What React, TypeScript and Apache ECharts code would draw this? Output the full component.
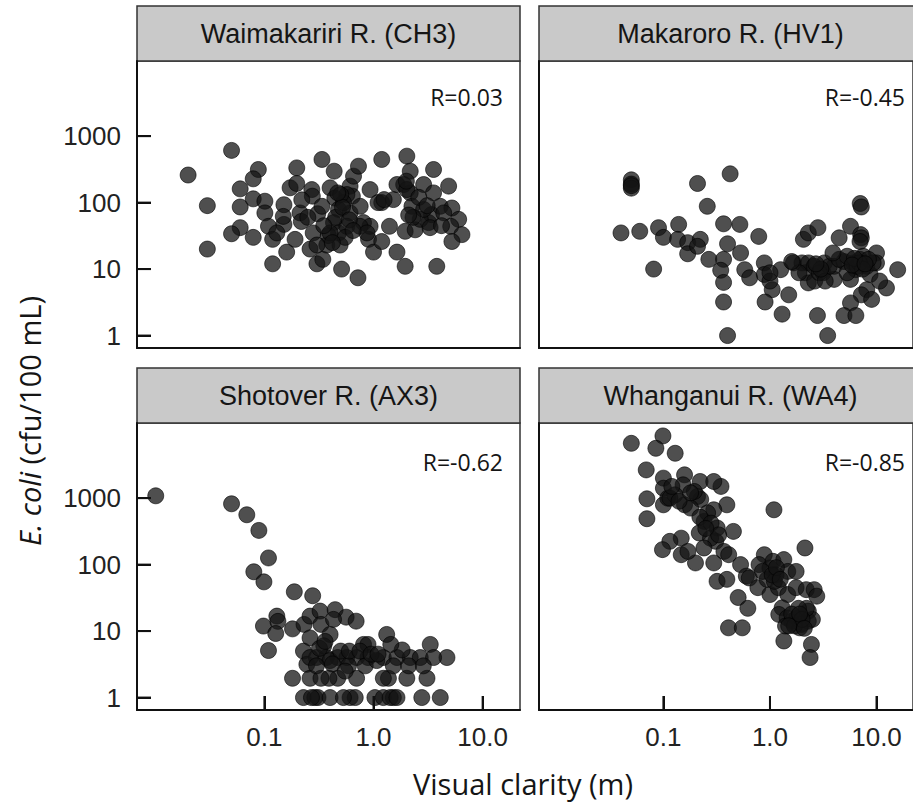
import React, { useEffect, useRef } from "react";
import * as echarts from "echarts";

// ---------- data ----------
const panelTitles = [
  "Waimakariri R. (CH3)",
  "Makaroro R. (HV1)",
  "Shotover R. (AX3)",
  "Whanganui R. (WA4)",
];
const correlationLabels = ["R=0.03", "R=-0.45", "R=-0.62", "R=-0.85"];
const yTickValues = [1, 10, 100, 1000];
const yTickLabels = ["1", "10", "100", "1000"];
const xTickValues = [0.1, 1, 10];
const xTickLabels = ["0.1", "1.0", "10.0"];
const xAxisTitle = "Visual clarity (m)";

// [visual clarity (m), E. coli (cfu/100 mL)]
const waimakaririPoints = [
  [0.02, 260], [0.05, 610], [0.03, 90], [0.03, 20], [0.088, 315], [0.079, 228], [0.06, 161], [0.06, 86],
  [0.079, 114], [0.06, 42], [0.05, 34], [0.079, 30], [0.101, 105], [0.101, 70], [0.109, 44], [0.119, 28],
  [0.119, 12], [0.151, 93], [0.151, 47], [0.16, 18], [0.172, 167], [0.198, 333], [0.198, 194], [0.212, 70],
  [0.218, 52], [0.191, 28], [0.272, 157], [0.275, 125], [0.308, 68], [0.28, 35], [0.262, 20], [0.303, 12],
  [0.343, 14], [0.337, 446], [0.373, 23], [0.4, 167], [0.436, 297], [0.442, 117], [0.478, 79], [0.43, 50],
  [0.478, 35], [0.494, 23], [0.51, 10], [0.61, 177], [0.656, 250], [0.64, 125], [0.61, 70], [0.57, 44],
  [0.728, 353], [0.755, 88], [0.81, 50], [0.9, 28], [1.0, 18], [0.72, 7.4], [0.93, 157], [1.19, 446],
  [1.19, 100], [1.19, 26], [1.4, 44], [1.52, 111], [1.64, 18], [1.95, 11], [1.95, 37], [2.02, 500],
  [2.17, 297], [1.89, 187], [2.17, 140], [2.25, 88], [2.41, 39], [2.88, 187], [3.2, 50], [3.55, 315],
  [3.55, 140], [3.8, 11], [3.4, 66], [4.09, 88], [4.88, 177], [5.23, 83], [6.03, 56], [5.1, 44],
  [6.46, 33], [5.23, 26], [2.68, 56], [3.3, 42], [0.385, 32], [0.57, 132], [0.53, 100], [0.337, 88],
  [0.303, 23], [0.13, 35], [0.149, 62], [0.4, 35], [0.93, 44], [1.1, 100], [1.25, 111], [1.64, 187],
  [2.02, 157], [2.88, 79], [4.4, 70], [0.75, 44], [0.87, 35], [0.5, 132],
  [0.45, 60], [0.52, 85], [0.6, 55], [0.47, 140], [0.55, 30], [0.35, 45], [0.65, 38], [0.42, 25],
  [2.3, 60], [2.6, 120], [3.1, 90], [2.0, 210], [4.2, 45], [2.1, 65], [0.25, 60], [0.22, 110],
];

const makaroroPoints = [
  [0.05, 220], [0.05, 190], [0.05, 165], [0.05, 180], [0.04, 35], [0.06, 37], [0.081, 10], [0.09, 42],
  [0.1, 30], [0.139, 47], [0.136, 28], [0.169, 25], [0.169, 17], [0.209, 194], [0.222, 28], [0.209, 22],
  [0.258, 88], [0.267, 14], [0.367, 48], [0.367, 14], [0.345, 9.6], [0.367, 6.3], [0.367, 3.2], [0.4, 1.0],
  [0.423, 271], [0.4, 24], [0.522, 47], [0.53, 17.5], [0.58, 9.8], [0.645, 7.4], [0.785, 31], [0.885, 12.4],
  [0.885, 8.3], [1.05, 4.9], [0.9, 3.2], [1.0, 6.6], [1.26, 9.8], [1.3, 2.1], [1.5, 4.1], [1.66, 12.4],
  [2.06, 28], [2.29, 35], [2.0, 12.4], [2.15, 8.8], [2.29, 6.2], [2.63, 6.6], [2.82, 42], [2.79, 2.0],
  [3.48, 1.0], [3.24, 12.4], [3.15, 8.8], [4.0, 11], [4.46, 29.5], [4.0, 7.0], [4.95, 13], [5.7, 44],
  [7.03, 97], [7.2, 86], [7.1, 33], [7.2, 29.5], [6.1, 12.4], [6.4, 9.8], [5.7, 7.0], [7.0, 14],
  [8.1, 11], [8.7, 8.3], [8.1, 4.9], [7.2, 4.1], [5.7, 3.1], [4.95, 2.0], [6.4, 2.0], [9.0, 3.5],
  [10.0, 17.5], [10.0, 12.4], [12.4, 5.2], [10.7, 6.6], [15.8, 9.8], [2.3, 12.4], [2.6, 11], [3.6, 11],
  [4.46, 14], [5.3, 15.6], [7.0, 26], [7.5, 15.6], [9.3, 12.4], [1.87, 8.8], [1.6, 13], [1.0, 8.8],
  [2.9, 8.8], [3.9, 17.5], [5.3, 8.8], [8.4, 14], [3.3, 6.6],
  [6.6, 11], [6.9, 12.4], [7.4, 10], [6.2, 14.5], [5.9, 11.5], [7.8, 12], [3.0, 10], [2.7, 12],
];

const shotoverPoints = [
  [0.0101, 1084], [0.05, 822], [0.069, 562], [0.089, 327], [0.109, 126], [0.08, 78], [0.099, 55], [0.188, 39],
  [0.277, 34], [0.098, 11.9], [0.13, 16.8], [0.133, 14], [0.127, 9.2], [0.109, 5.1], [0.181, 10.8], [0.181, 1.95],
  [0.231, 12.6], [0.262, 16.8], [0.262, 7.9], [0.324, 20], [0.445, 21], [0.561, 16.2], [0.693, 14.1], [0.33, 12.6],
  [0.4, 8.9], [0.228, 5.0], [0.245, 3.16], [0.262, 1.95], [0.228, 1], [0.29, 1], [0.31, 1], [0.4, 1],
  [0.61, 1], [0.68, 1], [1.03, 1], [1.23, 1], [1.52, 1], [2.77, 1], [4.09, 1], [4.71, 4.0],
  [3.31, 6.3], [1.32, 8.9], [0.81, 6.3], [0.89, 6.3], [0.47, 4.0], [0.47, 1.95], [0.7, 1.95], [1.37, 1.95],
  [2.02, 1.95], [3.09, 1.95], [0.3, 4.0], [0.37, 4.0], [0.57, 4.0], [0.7, 4.0], [0.89, 4.0], [1.23, 4.0],
  [1.64, 4.0], [2.17, 4.0], [2.68, 4.0], [3.55, 4.0], [1.83, 5.2], [1.52, 3.0], [0.84, 3.0], [0.59, 3.0],
  [0.35, 6.0], [0.39, 1.95], [0.33, 1.95], [1.23, 1.95], [0.262, 4.0], [0.43, 15], [0.27, 1], [0.53, 1],
  [1.42, 1], [1.64, 1], [1.07, 3.6], [2.1, 3.0], [0.4, 3.6], [1.44, 6.3], [2.86, 3.0],
  [0.32, 5.5], [0.36, 7], [0.5, 5], [0.6, 5], [0.75, 5], [0.95, 4.5], [1.1, 4.5], [0.42, 3.2],
  [0.3, 3], [0.55, 2.5],
];

const whanganuiPoints = [
  [0.05, 6680], [0.099, 8630], [0.085, 5620], [0.129, 4730], [0.069, 2660], [0.07, 977], [0.07, 490], [0.1, 2000],
  [0.1, 1410], [0.1, 794], [0.11, 1000], [0.158, 2240], [0.153, 1585], [0.221, 1780], [0.209, 1060], [0.224, 955],
  [0.347, 1500], [0.394, 794], [0.158, 794], [0.18, 708], [0.297, 668], [0.241, 447], [0.217, 299], [0.32, 355],
  [0.31, 224], [0.454, 316], [0.277, 250], [0.147, 250], [0.115, 224], [0.098, 168], [0.147, 141], [0.2, 106],
  [0.297, 106], [0.37, 158], [0.41, 141], [1.09, 668], [2.13, 178], [0.319, 56], [0.394, 60], [0.53, 100],
  [0.6, 67], [0.64, 63], [0.503, 32], [0.62, 22], [0.408, 11.2], [0.55, 11.2], [0.885, 141], [0.79, 100],
  [1.0, 89], [1.07, 112], [1.35, 119], [1.47, 79], [1.76, 79], [0.77, 45], [1.0, 35.5], [0.94, 60],
  [1.14, 70], [1.2, 45], [1.47, 35.5], [1.76, 45], [2.19, 42], [2.6, 42], [2.75, 33.5], [1.3, 22.4],
  [1.21, 17.8], [1.45, 15.8], [1.6, 14.1], [1.79, 15.8], [1.98, 12.6], [2.29, 20], [2.29, 14.1], [2.5, 15],
  [1.4, 11.9], [1.35, 7.1], [1.9, 11.2], [2.45, 6.3], [2.38, 4.0], [2.2, 22], [1.85, 22], [1.1, 56],
  [0.85, 79], [0.297, 1780], [0.195, 1260], [0.128, 1120], [0.24, 178], [0.17, 158], [0.115, 1000],
  [0.12, 1500], [0.14, 900], [0.18, 1200], [0.26, 600], [0.22, 520], [0.28, 420], [0.33, 280], [0.25, 350],
  [1.05, 70], [1.15, 90], [1.25, 60], [1.6, 18], [1.7, 12], [2.0, 15], [1.9, 18], [2.1, 11], [1.5, 12],
];

const panelPoints = [waimakaririPoints, makaroroPoints, shotoverPoints, whanganuiPoints];

// ---------- layout ----------
const GRID_LEFT = [137, 539, 137, 539];
const GRID_TOP = [61, 61, 423, 423];
const GRID_W = 383;
const GRID_H = 287;
const HEADER_H = 55;
const X_MIN = 0.0068;
const X_MAX = 22;
const Y_MIN = 0.65;
const Y_MAX = 13500;
const TICK_LEN = 14;
const AXIS_FONT = "'Liberation Sans', Arial, sans-serif";
const TEXT_FONT = "'Open Sans', 'Noto Sans', sans-serif";

function labelFor(values: number[], labels: string[], v: number): string {
  for (let i = 0; i < values.length; i++) {
    if (Math.abs(Math.log10(v) - Math.log10(values[i])) < 1e-6) return labels[i];
  }
  return "";
}

export default function App() {
  const ref = useRef<HTMLDivElement>(null);

  useEffect(() => {
    document.body.style.margin = "0";
    if (!ref.current) return;
    const chart = echarts.init(ref.current, undefined, { renderer: "svg" });

    const grids: any[] = [];
    const xAxes: any[] = [];
    const yAxes: any[] = [];
    const series: any[] = [];
    const graphics: any[] = [];

    for (let i = 0; i < 4; i++) {
      const isBottom = i >= 2;
      const isLeft = i % 2 === 0;
      grids.push({
        left: GRID_LEFT[i],
        top: GRID_TOP[i],
        width: GRID_W,
        height: GRID_H,
        show: true,
        borderColor: "#333",
        borderWidth: 1.5,
        backgroundColor: "transparent",
      });
      xAxes.push({
        type: "log",
        logBase: 10,
        gridIndex: i,
        min: X_MIN,
        max: X_MAX,
        z: 5,
        axisLine: { show: true, lineStyle: { color: "#111", width: 2 } },
        axisTick: {
          show: isBottom,
          inside: true,
          length: TICK_LEN,
          customValues: xTickValues,
          lineStyle: { color: "#111", width: 2 },
        },
        axisLabel: {
          show: isBottom,
          customValues: xTickValues,
          formatter: (v: number) => labelFor(xTickValues, xTickLabels, v),
          margin: 14,
          fontFamily: AXIS_FONT,
          fontSize: 26,
          color: "#222",
        },
        splitLine: { show: false },
        minorTick: { show: false },
      });
      yAxes.push({
        type: "log",
        logBase: 10,
        gridIndex: i,
        min: Y_MIN,
        max: Y_MAX,
        z: 5,
        axisLine: { show: true, lineStyle: { color: "#111", width: 2 } },
        axisTick: {
          show: isLeft,
          inside: true,
          length: TICK_LEN,
          customValues: yTickValues,
          lineStyle: { color: "#111", width: 2 },
        },
        axisLabel: {
          show: isLeft,
          customValues: yTickValues,
          formatter: (v: number) => labelFor(yTickValues, yTickLabels, v),
          margin: 16,
          fontFamily: AXIS_FONT,
          fontSize: 26,
          color: "#222",
        },
        splitLine: { show: false },
        minorTick: { show: false },
      });
      series.push({
        type: "scatter",
        xAxisIndex: i,
        yAxisIndex: i,
        data: panelPoints[i],
        symbol: "circle",
        symbolSize: 16,
        silent: true,
        itemStyle: { color: "#141414", opacity: 0.75, borderColor: "#000", borderWidth: 0.8 },
      });

      // header strip
      graphics.push({
        id: "hdr-rect-" + i,
        type: "rect",
        shape: { x: GRID_LEFT[i], y: GRID_TOP[i] - HEADER_H, width: GRID_W, height: HEADER_H },
        style: { fill: "#c9c9c9", stroke: "#333", lineWidth: 1.5 },
      });
      graphics.push({
        id: "hdr-text-" + i,
        type: "text",
        x: GRID_LEFT[i] + GRID_W / 2,
        y: GRID_TOP[i] - HEADER_H / 2,
        style: {
          text: panelTitles[i],
          align: "center",
          verticalAlign: "middle",
          fontFamily: AXIS_FONT,
          fontSize: 27,
          fill: "#151515",
        },
      });
      // correlation label
      graphics.push({
        id: "r-text-" + i,
        type: "text",
        x: GRID_LEFT[i] + GRID_W - 17,
        y: GRID_TOP[i] + (isBottom ? 39 : 36),
        style: {
          text: correlationLabels[i],
          align: "right",
          verticalAlign: "middle",
          fontFamily: TEXT_FONT,
          fontSize: 23,
          fill: "#151515",
        },
      });
    }

    // axis titles
    graphics.push({
      id: "y-title",
      type: "text",
      x: 29,
      y: 421,
      rotation: Math.PI / 2,
      style: {
        text: "{i|E. coli} (cfu/100 mL)",
        align: "center",
        verticalAlign: "middle",
        fontFamily: TEXT_FONT,
        fontSize: 29,
        fill: "#151515",
        rich: {
          i: { fontStyle: "italic", fontFamily: TEXT_FONT, fontSize: 29, fill: "#151515" },
        },
      },
    });
    graphics.push({
      id: "x-title",
      type: "text",
      x: 523,
      y: 783,
      style: {
        text: xAxisTitle,
        align: "center",
        verticalAlign: "middle",
        fontFamily: TEXT_FONT,
        fontSize: 29,
        fill: "#151515",
      },
    });

    chart.setOption({
      animation: false,
      backgroundColor: "#fff",
      grid: grids,
      xAxis: xAxes,
      yAxis: yAxes,
      series,
      graphic: graphics,
    });

    // inward tick marks, positioned through each grid's own log scales
    const tickLines: any[] = [];
    for (let i = 0; i < 4; i++) {
      const isBottom = i >= 2;
      const isLeft = i % 2 === 0;
      if (isLeft) {
        yTickValues.forEach((v, k) => {
          const p = chart.convertToPixel({ gridIndex: i } as any, [X_MIN, v]) as number[];
          if (p && isFinite(p[0]) && isFinite(p[1])) {
            tickLines.push({
              id: "ytick-" + i + "-" + k,
              type: "line",
              z: 100,
              shape: { x1: p[0], y1: p[1], x2: p[0] + TICK_LEN, y2: p[1] },
              style: { stroke: "#111", lineWidth: 2 },
            });
          }
        });
      }
      if (isBottom) {
        xTickValues.forEach((v, k) => {
          const p = chart.convertToPixel({ gridIndex: i } as any, [v, Y_MIN]) as number[];
          if (p && isFinite(p[0]) && isFinite(p[1])) {
            tickLines.push({
              id: "xtick-" + i + "-" + k,
              type: "line",
              z: 100,
              shape: { x1: p[0], y1: p[1], x2: p[0], y2: p[1] - TICK_LEN },
              style: { stroke: "#111", lineWidth: 2 },
            });
          }
        });
      }
    }
    if (tickLines.length) {
      chart.setOption({ graphic: [...graphics, ...tickLines] });
    }

    return () => chart.dispose();
  }, []);

  return <div ref={ref} style={{ width: 913, height: 804 }} />;
}
